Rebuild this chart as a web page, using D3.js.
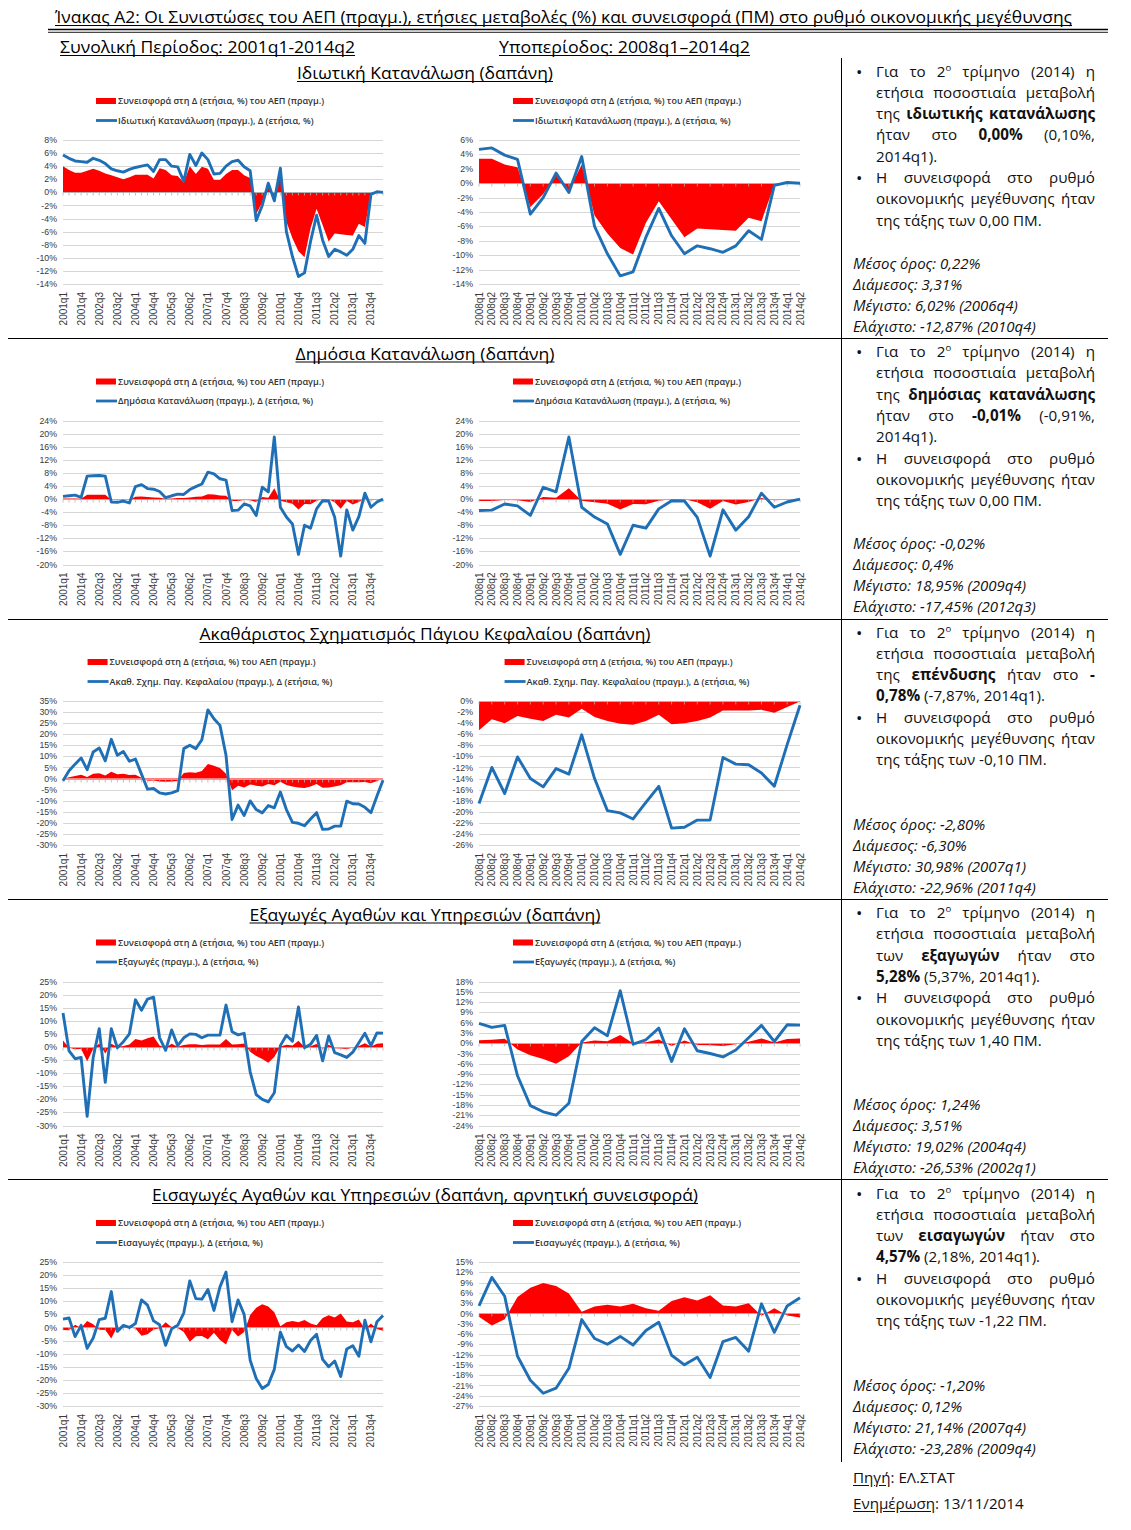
<!DOCTYPE html>
<html><head><meta charset="utf-8">
<script src="https://cdn.jsdelivr.net/npm/d3@7"></script>
<style>
body{margin:0;background:#fff;}
#wrap{position:relative;width:1131px;height:1530px;overflow:hidden;}
svg{position:absolute;left:0;top:0;}
.rt{position:absolute;font-family:'Open Sans',sans-serif;font-size:15.2px;color:#111;white-space:nowrap;line-height:21px;height:21px;}
.jl{text-align:justify;text-align-last:justify;width:219px;}
.it{font-style:italic;font-size:15px;}
.bl{font-size:17px;}
sup{font-size:9.5px;line-height:0;vertical-align:6px;}
u{text-decoration:underline;text-underline-offset:2px;}
</style></head>
<body><div id="wrap"></div>
<script>
// ---------------- DATA ----------------
const categories = ["2001q1","2001q2","2001q3","2001q4","2002q1","2002q2","2002q3","2002q4","2003q1","2003q2","2003q3","2003q4",
"2004q1","2004q2","2004q3","2004q4","2005q1","2005q2","2005q3","2005q4","2006q1","2006q2","2006q3","2006q4",
"2007q1","2007q2","2007q3","2007q4","2008q1","2008q2","2008q3","2008q4","2009q1","2009q2","2009q3","2009q4",
"2010q1","2010q2","2010q3","2010q4","2011q1","2011q2","2011q3","2011q4","2012q1","2012q2","2012q3","2012q4",
"2013q1","2013q2","2013q3","2013q4","2014q1","2014q2"];
const subCategories = categories.slice(28);
const fullTickLabels = ["2001q1","2001q4","2002q3","2003q2","2004q1","2004q4","2005q3","2006q2","2007q1","2007q4","2008q3","2009q2","2010q1","2010q4","2011q3","2012q2","2013q1","2013q4"];
const subTickLabels = subCategories;

const privLine = [5.7,5.2,4.8,4.7,4.6,5.2,4.9,4.4,3.6,3.3, 3.1,3.5,3.8,4.0,4.2,3.2,5.0,5.0,4.0,3.9, 1.7,5.8,4.1,6.02,5.0,2.8,2.9,4.0,
 4.7,4.9,3.9,3.3,-4.3,-2.0,1.4,-1.3,3.7,-6.0, -9.8,-12.87,-12.3,-7.5,-3.5,-7.3,-9.8,-8.7,-9.1,-9.6, -8.7,-6.6,-7.8,-0.3,0.1,0.0];
const privContrib = [4.0,3.4,3.0,3.0,3.3,3.6,3.3,2.9,2.6,2.3, 2.0,2.3,2.7,2.7,2.7,2.1,3.7,3.4,2.6,2.5, 1.5,4.0,2.8,3.9,3.6,1.9,1.9,2.8,
 3.4,3.4,2.6,2.2,-3.3,-1.5,1.1,-1.0,2.6,-4.5, -7.0,-9.0,-9.9,-5.5,-2.5,-5.0,-7.5,-6.3,-6.4,-6.5, -6.6,-4.8,-5.3,-0.2,0.1,0.0];

const govLine = [0.8,1.0,1.2,0.5,7.0,7.1,7.2,7.0,-0.9,-1.0, -0.6,-1.2,3.8,4.4,3.2,3.0,2.3,0.4,1.0,1.5, 1.4,2.9,3.8,4.6,8.2,7.7,6.2,5.8,
 -3.5,-3.4,-1.5,-2.1,-5.0,3.6,2.2,18.95,-2.5,-5.5, -7.6,-16.9,-8.0,-8.9,-3.0,-0.5,-0.6,-5.6,-17.45,-3.3, -9.5,-5.4,1.8,-2.5,-0.91,-0.01];
const govContrib = [0.2,0.2,0.2,0.1,1.3,1.3,1.3,1.3,-0.2,-0.2, -0.1,-0.2,0.7,0.8,0.6,0.5,0.4,0.1,0.2,0.3, 0.3,0.5,0.7,0.8,1.5,1.4,1.1,1.0,
 -0.6,-0.6,-0.3,-0.4,-0.9,0.6,0.4,3.3,-0.5,-1.0, -1.4,-3.2,-1.5,-1.6,-0.5,-0.1,-0.1,-1.0,-3.0,-0.6, -1.7,-0.9,0.3,-0.4,-0.2,0.0];

const invLine = [-1.0,3.5,6.5,9.3,4.0,12.0,13.8,8.0,17.7,10.5, 12.2,7.8,8.8,2.0,-4.8,-4.5,-6.5,-7.0,-6.5,-5.5, 13.5,15.0,13.5,17.5,30.98,27.0,24.0,10.5,
 -18.5,-12.0,-16.7,-10.1,-14.0,-15.5,-12.2,-13.2,-6.1,-14.0, -19.8,-20.2,-21.3,-18.3,-15.4,-22.96,-22.8,-21.5,-21.5,-10.2, -11.4,-11.5,-13.0,-15.4,-7.87,-0.78];
const invContrib = [-0.2,0.6,1.1,1.7,0.7,2.2,2.4,1.4,3.1,1.9, 2.2,1.6,1.7,0.4,-1.0,-0.9,-1.3,-1.4,-1.3,-1.1, 2.5,2.8,2.6,3.4,6.6,5.8,4.8,2.2,
 -5.3,-3.3,-4.0,-2.7,-3.2,-3.6,-2.5,-3.0,-1.4,-2.9, -3.6,-4.1,-4.3,-3.6,-2.5,-4.2,-4.0,-3.6,-3.0,-1.7, -1.7,-1.7,-1.6,-2.1,-1.1,-0.1];

const expLine = [13.0,-1.5,-4.5,-4.0,-26.53,-4.0,7.0,-13.5,7.0,-0.3, 2.0,5.0,18.0,14.0,18.3,19.02,3.5,-1.3,6.5,0.5, 3.5,5.0,4.8,3.5,4.5,4.5,4.5,16.0,
 5.8,4.6,5.2,-9.5,-18.2,-20.0,-21.0,-17.5,0.5,4.5, 2.2,15.3,-0.3,1.0,4.4,-5.3,4.2,-2.2,-3.0,-4.0, -2.0,1.6,5.2,0.5,5.37,5.28];
const expContrib = [2.5,-0.3,-0.9,-0.8,-5.5,-0.8,1.3,-2.5,1.2,0.0, 0.4,0.9,3.0,2.5,3.3,4.0,0.6,-0.2,1.2,0.1, 0.7,1.0,1.0,0.7,0.9,0.9,0.9,3.0,
 0.9,1.0,1.3,-1.8,-3.5,-4.6,-6.0,-3.8,0.2,0.8, 0.6,2.4,0.0,0.3,1.1,-0.8,0.8,-0.5,-0.6,-0.8, -0.3,0.4,1.4,0.2,1.2,1.40];

const impLine = [3.2,3.6,-3.5,0.8,-8.0,-4.0,3.0,3.5,13.7,-1.5, 0.8,0.0,1.5,10.5,8.5,2.5,1.0,-6.8,-0.5,0.8, 5.5,17.8,11.0,10.8,14.5,6.5,15.5,21.14,
 2.2,10.5,5.0,-12.5,-19.5,-23.28,-21.8,-16.0,-1.8,-7.3, -9.0,-6.7,-9.2,-5.0,-2.6,-12.2,-15.0,-12.8,-18.7,-8.2, -7.0,-11.0,2.8,-5.5,2.18,4.57];
const impContrib = [-1.0,-1.1,1.0,-0.2,2.5,1.2,-0.9,-1.0,-4.2,0.4, -0.2,0.0,-0.4,-3.2,-2.6,-0.8,-0.3,2.0,0.1,-0.2, -1.7,-5.5,-3.4,-3.3,-4.5,-2.0,-4.8,-6.5,
 -1.0,-3.5,-1.7,4.8,7.5,8.9,8.0,5.8,0.5,2.0, 2.5,2.0,2.8,1.5,0.8,3.6,4.7,3.8,5.3,2.3, 2.0,3.0,-0.7,1.5,-0.6,-1.22];

const privFullTicks = [8,6,4,2,0,-2,-4,-6,-8,-10,-12,-14];
const privSubTicks  = [6,4,2,0,-2,-4,-6,-8,-10,-12,-14];
const govTicks      = [24,20,16,12,8,4,0,-4,-8,-12,-16,-20];
const invFullTicks  = [35,30,25,20,15,10,5,0,-5,-10,-15,-20,-25,-30];
const invSubTicks   = [0,-2,-4,-6,-8,-10,-12,-14,-16,-18,-20,-22,-24,-26];
const expFullTicks  = [25,20,15,10,5,0,-5,-10,-15,-20,-25,-30];
const expSubTicks   = [18,15,12,9,6,3,0,-3,-6,-9,-12,-15,-18,-21,-24];
const impFullTicks  = [25,20,15,10,5,0,-5,-10,-15,-20,-25,-30];
const impSubTicks   = [15,12,9,6,3,0,-3,-6,-9,-12,-15,-18,-21,-24,-27];

const rowTitles = ["Ιδιωτική Κατανάλωση (δαπάνη)","Δημόσια Κατανάλωση (δαπάνη)","Ακαθάριστος Σχηματισμός Πάγιου Κεφαλαίου (δαπάνη)","Εξαγωγές Αγαθών και Υπηρεσιών (δαπάνη)","Εισαγωγές Αγαθών και Υπηρεσιών (δαπάνη, αρνητική συνεισφορά)"];
const contribLegend = "Συνεισφορά στη Δ (ετήσια, %) του ΑΕΠ (πραγμ.)";
const lineLegends = ["Ιδιωτική Κατανάλωση (πραγμ.), Δ (ετήσια, %)","Δημόσια Κατανάλωση (πραγμ.), Δ (ετήσια, %)","Ακαθ. Σχημ. Παγ. Κεφαλαίου (πραγμ.), Δ (ετήσια, %)","Εξαγωγές (πραγμ.), Δ (ετήσια, %)","Εισαγωγές (πραγμ.), Δ (ετήσια, %)"];

const rows = [
 {line:privLine, contrib:privContrib, fullTicks:privFullTicks, subTicks:privSubTicks},
 {line:govLine, contrib:govContrib, fullTicks:govTicks, subTicks:govTicks},
 {line:invLine, contrib:invContrib, fullTicks:invFullTicks, subTicks:invSubTicks},
 {line:expLine, contrib:expContrib, fullTicks:expFullTicks, subTicks:expSubTicks},
 {line:impLine, contrib:impContrib, fullTicks:impFullTicks, subTicks:impSubTicks}
];

const notes = [
 {b1:["Για το 2<sup>ο</sup> τρίμηνο (2014) η","ετήσια ποσοστιαία μεταβολή","της <b>ιδιωτικής κατανάλωσης</b>","ήταν στο <b>0,00%</b> (0,10%,","2014q1)."],
  b2:["Η συνεισφορά στο ρυθμό","οικονομικής μεγέθυνσης ήταν","της τάξης των 0,00 ΠΜ."],
  st:["Μέσος όρος: 0,22%","Διάμεσος: 3,31%","Μέγιστο: 6,02% (2006q4)","Ελάχιστο: -12,87% (2010q4)"]},
 {b1:["Για το 2<sup>ο</sup> τρίμηνο (2014) η","ετήσια ποσοστιαία μεταβολή","της <b>δημόσιας κατανάλωσης</b>","ήταν στο <b>-0,01%</b> (-0,91%,","2014q1)."],
  b2:["Η συνεισφορά στο ρυθμό","οικονομικής μεγέθυνσης ήταν","της τάξης των 0,00 ΠΜ."],
  st:["Μέσος όρος: -0,02%","Διάμεσος: 0,4%","Μέγιστο: 18,95% (2009q4)","Ελάχιστο: -17,45% (2012q3)"]},
 {b1:["Για το 2<sup>ο</sup> τρίμηνο (2014) η","ετήσια ποσοστιαία μεταβολή","της <b>επένδυσης</b> ήταν στο <b>-</b>","<b>0,78%</b> (-7,87%, 2014q1)."],
  b2:["Η συνεισφορά στο ρυθμό","οικονομικής μεγέθυνσης ήταν","της τάξης των -0,10 ΠΜ."],
  st:["Μέσος όρος: -2,80%","Διάμεσος: -6,30%","Μέγιστο: 30,98% (2007q1)","Ελάχιστο: -22,96% (2011q4)"]},
 {b1:["Για το 2<sup>ο</sup> τρίμηνο (2014) η","ετήσια ποσοστιαία μεταβολή","των <b>εξαγωγών</b> ήταν στο","<b>5,28%</b> (5,37%, 2014q1)."],
  b2:["Η συνεισφορά στο ρυθμό","οικονομικής μεγέθυνσης ήταν","της τάξης των 1,40 ΠΜ."],
  st:["Μέσος όρος: 1,24%","Διάμεσος: 3,51%","Μέγιστο: 19,02% (2004q4)","Ελάχιστο: -26,53% (2002q1)"]},
 {b1:["Για το 2<sup>ο</sup> τρίμηνο (2014) η","ετήσια ποσοστιαία μεταβολή","των <b>εισαγωγών</b> ήταν στο","<b>4,57%</b> (2,18%, 2014q1)."],
  b2:["Η συνεισφορά στο ρυθμό","οικονομικής μεγέθυνσης ήταν","της τάξης των -1,22 ΠΜ."],
  st:["Μέσος όρος: -1,20%","Διάμεσος: 0,12%","Μέγιστο: 21,14% (2007q4)","Ελάχιστο: -23,28% (2009q4)"]}
];

// ---------------- LAYOUT ----------------
const W = 1131, H = 1530;
const rowStep = 280.5, plotTop0 = 140, plotH = 144;
const fullRange = [63, 383], subRange = [479, 800];
const legendCenters = [210, 627];
const RED = "#ff0000", BLUE = "#1f6fb6";
const FONT = "'Open Sans', sans-serif";
const TICKFONT = "'Liberation Sans', Arial, sans-serif";

const wrap = d3.select("#wrap");
const svg = wrap.append("svg").attr("width", W).attr("height", H);

function fitText(sel, x, y, str, size, width, anchor, underline) {
  const t = sel.append("text").attr("x", x).attr("y", y).attr("font-family", FONT)
    .attr("font-size", size).attr("fill", "#000").attr("text-anchor", anchor || "start").text(str);
  if (width) t.attr("textLength", width).attr("lengthAdjust", "spacingAndGlyphs");
  if (underline) {
    const w = width || t.node().getComputedTextLength();
    const x0 = anchor === "middle" ? x - w / 2 : x;
    sel.append("line").attr("x1", x0).attr("x2", x0 + w).attr("y1", y + 2.5).attr("y2", y + 2.5)
      .attr("stroke", "#000").attr("stroke-width", 1);
  }
  return t;
}

// Title + rules
fitText(svg, 55, 23, "Ίνακας A2: Οι Συνιστώσες του ΑΕΠ (πραγμ.), ετήσιες μεταβολές (%) και συνεισφορά (ΠΜ) στο ρυθμό οικονομικής μεγέθυνσης", 17, 1017, "start", true);
svg.append("line").attr("x1", 48).attr("x2", 1108).attr("y1", 29.5).attr("y2", 29.5).attr("stroke", "#000").attr("stroke-width", 1.6);
svg.append("line").attr("x1", 48).attr("x2", 1108).attr("y1", 32.3).attr("y2", 32.3).attr("stroke", "#000").attr("stroke-width", 0.9);
fitText(svg, 60, 53, "Συνολική Περίοδος: 2001q1-2014q2", 17, 295, "start", true);
fitText(svg, 499, 53, "Υποπερίοδος: 2008q1–2014q2", 17, 251, "start", true);

// frame lines
svg.append("line").attr("x1", 841.5).attr("x2", 841.5).attr("y1", 58).attr("y2", 1462).attr("stroke", "#000").attr("stroke-width", 1);
[338, 619, 899, 1179].forEach(yy => {
  svg.append("line").attr("x1", 8).attr("x2", 1108).attr("y1", yy + 0.5).attr("y2", yy + 0.5).attr("stroke", "#000").attr("stroke-width", 1);
});

const titleWidths = [256, 259, 451, 351, 546];

function drawChart(g, cats, lineData, contribData, ticks, range, top, legendText, legendCenter, tickLabels) {
  const x = d3.scalePoint().domain(cats).range(range);
  const y = d3.scaleLinear().domain([d3.min(ticks), d3.max(ticks)]).range([top + plotH, top]);
  // gridlines
  g.selectAll(null).data(ticks).enter().append("line")
    .attr("x1", range[0]).attr("x2", range[1])
    .attr("y1", d => Math.round(y(d)) + 0.5).attr("y2", d => Math.round(y(d)) + 0.5)
    .attr("stroke", "#d6d6d6").attr("stroke-width", 1);
  // y labels
  g.selectAll(null).data(ticks).enter().append("text")
    .attr("x", range[0] - 6).attr("y", d => y(d)).attr("dy", "0.35em")
    .attr("text-anchor", "end").attr("font-family", TICKFONT).attr("font-size", 8.8)
    .attr("fill", "#3a3a3a").text(d => d + "%");
  // area
  const area = d3.area().x((d, i) => x(cats[i])).y0(y(0)).y1(d => y(d));
  g.append("path").datum(contribData).attr("d", area).attr("fill", RED);
  // zero axis and ticks
  const y0 = Math.round(y(0)) + 0.5;
  g.append("line").attr("x1", range[0]).attr("x2", range[1]).attr("y1", y0).attr("y2", y0)
    .attr("stroke", "#b0b0b0").attr("stroke-width", 1);
  g.selectAll(null).data(cats).enter().append("line")
    .attr("x1", d => x(d)).attr("x2", d => x(d)).attr("y1", y0).attr("y2", y0 + 3)
    .attr("stroke", "#b0b0b0").attr("stroke-width", 0.8);
  // line
  const line = d3.line().x((d, i) => x(cats[i])).y(d => y(d));
  g.append("path").datum(lineData).attr("d", line).attr("fill", "none")
    .attr("stroke", BLUE).attr("stroke-width", 2.9).attr("stroke-linejoin", "round");
  // x labels
  g.selectAll(null).data(tickLabels).enter().append("text")
    .attr("transform", d => `translate(${x(d)},${top + plotH + 8}) rotate(-90)`)
    .attr("text-anchor", "end").attr("dy", "0.35em").attr("font-family", TICKFONT)
    .attr("font-size", 10).attr("fill", "#3a3a3a").text(d => d);
  // legend
  const lg = g.append("g");
  lg.append("rect").attr("x", 0).attr("y", -3).attr("width", 20).attr("height", 6).attr("fill", RED);
  const t1 = lg.append("text").attr("x", 22).attr("y", 0).attr("dy", "0.35em").attr("font-family", FONT)
    .attr("font-size", 9).attr("font-weight", 600).attr("fill", "#333").text(contribLegend);
  lg.append("line").attr("x1", 0).attr("x2", 21).attr("y1", 19.5).attr("y2", 19.5).attr("stroke", BLUE).attr("stroke-width", 2.8);
  const t2 = lg.append("text").attr("x", 22).attr("y", 19.5).attr("dy", "0.35em").attr("font-family", FONT)
    .attr("font-size", 9).attr("font-weight", 600).attr("fill", "#333").text(legendText);
  const w = 22 + Math.max(t1.node().getComputedTextLength(), t2.node().getComputedTextLength());
  lg.attr("transform", `translate(${legendCenter - w / 2},${top - 39})`);
}

rows.forEach((r, i) => {
  const top = plotTop0 + i * rowStep;
  const g = svg.append("g");
  fitText(g, 425, 79 + i * rowStep, rowTitles[i], 16.5, titleWidths[i], "middle", true);
  drawChart(g, categories, r.line, r.contrib, r.fullTicks, fullRange, top, lineLegends[i], legendCenters[0], fullTickLabels);
  drawChart(g, subCategories, r.line.slice(28), r.contrib.slice(28), r.subTicks, subRange, top, lineLegends[i], legendCenters[1], subTickLabels);
});

// ---------------- RIGHT NOTES (HTML) ----------------
function addDiv(html, left, cy, cls) {
  wrap.append("div").attr("class", "rt " + (cls || "")).style("left", left + "px")
    .style("top", (cy - 10.5) + "px").html(html);
}
notes.forEach((n, i) => {
  const base = i * rowStep;
  addDiv("•", 856, 71 + base, "bl");
  n.b1.forEach((ln, k) => addDiv(ln, 876, 71 + base + k * 21.3, k < n.b1.length - 1 ? "jl" : ""));
  const b2y = 71 + base + n.b1.length * 21.3;
  addDiv("•", 856, b2y, "bl");
  n.b2.forEach((ln, k) => addDiv(ln, 876, b2y + k * 21.3, k < n.b2.length - 1 ? "jl" : ""));
  n.st.forEach((ln, k) => addDiv(ln, 853, 263 + base + k * 21, "it"));
});
addDiv("<u>Πηγή</u>: ΕΛ.ΣΤΑΤ", 853, 1477);
addDiv("<u>Ενημέρωση</u>: 13/11/2014", 853, 1503);
</script>
</body></html>
